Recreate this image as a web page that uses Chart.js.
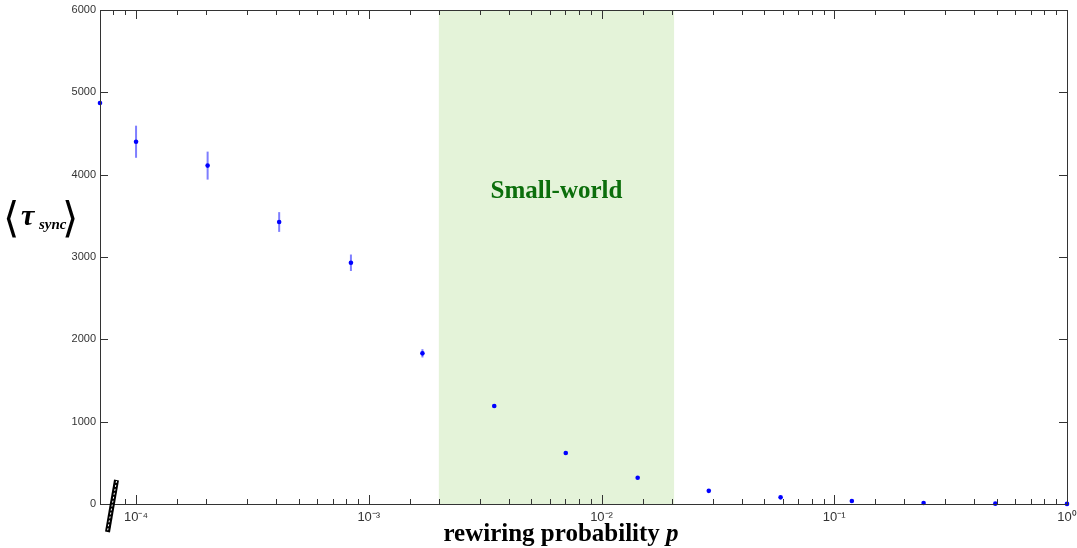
<!DOCTYPE html>
<html>
<head>
<meta charset="utf-8">
<script src="https://cdn.jsdelivr.net/npm/chart.js@4/dist/chart.umd.min.js"></script>
<style>
    html, body { margin: 0; padding: 0; background: #fff; }
</style>
</head>
<body>
<canvas id="chart" width="1077" height="548"></canvas>
<script>
// rewiring probabilities; the first one (p = 0) is drawn at the axis break
const rewiringP = [7e-5, 1.0e-4, 2.03e-4, 4.12e-4, 8.38e-4, 1.70e-3, 3.46e-3, 7.02e-3,
    1.43e-2, 2.89e-2, 5.88e-2, 0.119, 0.242, 0.492, 1.0];
const tauMean = [4870, 4400, 4110, 3425, 2930, 1830, 1190, 619, 319, 160, 81, 36, 12, 4, 1];
const tauErr = [10, 195, 170, 120, 100, 50, 20, 15, 12, 10, 8, 6, 4, 3, 2];

const smallWorld = [2.0e-3, 2.05e-2];
const yTicks = [0, 1000, 2000, 3000, 4000, 5000, 6000];
const xTickLabels = {'-4': '10⁻⁴', '-3': '10⁻³', '-2': '10⁻²', '-1': '10⁻¹', '0': '10⁰'};

const decor = {
    id: 'decor',
    beforeDatasetsDraw(chart) {
        const {ctx, chartArea: a, scales: {x, y}} = chart;
        ctx.save();
        // small-world band
        const x0 = x.getPixelForValue(smallWorld[0]);
        const x1 = x.getPixelForValue(smallWorld[1]);
        ctx.fillStyle = '#e4f3d9';
        ctx.fillRect(x0, a.top, x1 - x0, a.bottom - a.top);
        ctx.fillStyle = '#0b6e0b';
        ctx.font = 'bold 25px "Liberation Serif", serif';
        ctx.textAlign = 'center';
        ctx.textBaseline = 'middle';
        ctx.fillText('Small-world', (x0 + x1) / 2, 192);

        // error bars
        ctx.strokeStyle = 'rgba(40, 40, 255, 0.6)';
        ctx.lineWidth = 2;
        for (let i = 0; i < rewiringP.length; i++) {
            const px = x.getPixelForValue(rewiringP[i]);
            ctx.beginPath();
            ctx.moveTo(px, y.getPixelForValue(tauMean[i] - tauErr[i]));
            ctx.lineTo(px, y.getPixelForValue(tauMean[i] + tauErr[i]));
            ctx.stroke();
        }
        ctx.restore();
    },
    afterDraw(chart) {
        const {ctx, chartArea: a, scales: {x, y}} = chart;
        ctx.save();
        ctx.strokeStyle = '#333';
        ctx.lineWidth = 1;
        ctx.strokeRect(a.left + 0.5, a.top + 0.5, a.right - a.left, a.bottom - a.top);

        ctx.beginPath();
        x.ticks.forEach(t => {
            const px = Math.round(x.getPixelForValue(t.value)) + 0.5;
            const lg = Math.log10(t.value);
            const len = Math.abs(lg - Math.round(lg)) < 1e-6 ? 9 : 5;
            ctx.moveTo(px, a.bottom);
            ctx.lineTo(px, a.bottom - len);
            ctx.moveTo(px, a.top);
            ctx.lineTo(px, a.top + len);
        });
        y.ticks.forEach(t => {
            const py = Math.round(y.getPixelForValue(t.value)) + 0.5;
            ctx.moveTo(a.left, py);
            ctx.lineTo(a.left + 8, py);
            ctx.moveTo(a.right, py);
            ctx.lineTo(a.right - 8, py);
        });
        ctx.stroke();

        // axis break mark
        ctx.strokeStyle = '#000';
        ctx.lineWidth = 5;
        ctx.beginPath();
        ctx.moveTo(116.5, 480);
        ctx.lineTo(107.5, 532);
        ctx.stroke();
        ctx.strokeStyle = '#fff';
        ctx.lineWidth = 1;
        ctx.setLineDash([2, 2]);
        ctx.beginPath();
        ctx.moveTo(116.5, 481);
        ctx.lineTo(107.5, 531);
        ctx.stroke();
        ctx.setLineDash([]);

        // x title
        ctx.fillStyle = '#000';
        ctx.textBaseline = 'alphabetic';
        ctx.textAlign = 'left';
        const f1 = 'bold 25px "Liberation Serif", serif';
        const f2 = 'italic bold 25px "Liberation Serif", serif';
        ctx.font = f1;
        const w1 = ctx.measureText('rewiring probability ').width;
        ctx.font = f2;
        const w2 = ctx.measureText('p').width;
        const sx = 561 - (w1 + w2) / 2;
        ctx.font = f1;
        ctx.fillText('rewiring probability ', sx, 541);
        ctx.font = f2;
        ctx.fillText('p', sx + w1, 541);

        // y title
        ctx.font = '42px "DejaVu Sans", sans-serif';
        ctx.fillText('⟨', 3, 232);
        ctx.font = 'italic bold 30px "Liberation Serif", serif';
        ctx.fillText('τ', 21, 225);
        ctx.font = 'italic bold 15px "Liberation Serif", serif';
        ctx.fillText('sync', 39, 229);
        ctx.font = '42px "DejaVu Sans", sans-serif';
        ctx.fillText('⟩', 62, 232);
        ctx.restore();
    }
};

new Chart(document.getElementById('chart'), {
    type: 'scatter',
    data: {
        datasets: [{
            data: rewiringP.map((p, i) => ({x: p, y: tauMean[i]})),
            backgroundColor: '#0000ff',
            borderColor: '#0000ff',
            pointStyle: 'circle',
            pointRadius: 2.3,
            borderWidth: 0,
            clip: false
        }]
    },
    options: {
        responsive: false,
        animation: false,
        devicePixelRatio: 1,
        layout: {padding: {top: 10, right: 10, left: 0, bottom: 0}},
        plugins: {legend: {display: false}, tooltip: {enabled: false}},
        scales: {
            x: {
                type: 'logarithmic',
                min: 7e-5,
                max: 1,
                grid: {display: false, drawTicks: false},
                border: {display: false},
                afterFit: s => { s.height = 44; s.paddingLeft = 0; s.paddingRight = 0; },
                ticks: {
                    autoSkip: false,
                    maxRotation: 0,
                    padding: 6,
                    color: '#333',
                    font: {family: '"Liberation Sans", sans-serif', size: 13},
                    callback: v => {
                        const lg = Math.log10(v);
                        return Math.abs(lg - Math.round(lg)) < 1e-6 ? (xTickLabels[Math.round(lg)] || '') : '';
                    }
                }
            },
            y: {
                min: 0,
                max: 6000,
                grid: {display: false, drawTicks: false},
                border: {display: false},
                afterFit: s => { s.width = 100; s.paddingTop = 0; s.paddingBottom = 0; },
                afterBuildTicks: s => { s.ticks = yTicks.map(v => ({value: v})); },
                ticks: {
                    padding: 4,
                    color: '#333',
                    font: {family: '"Liberation Sans", sans-serif', size: 11},
                    callback: v => String(v)
                }
            }
        }
    },
    plugins: [decor]
});
</script>
</body>
</html>
